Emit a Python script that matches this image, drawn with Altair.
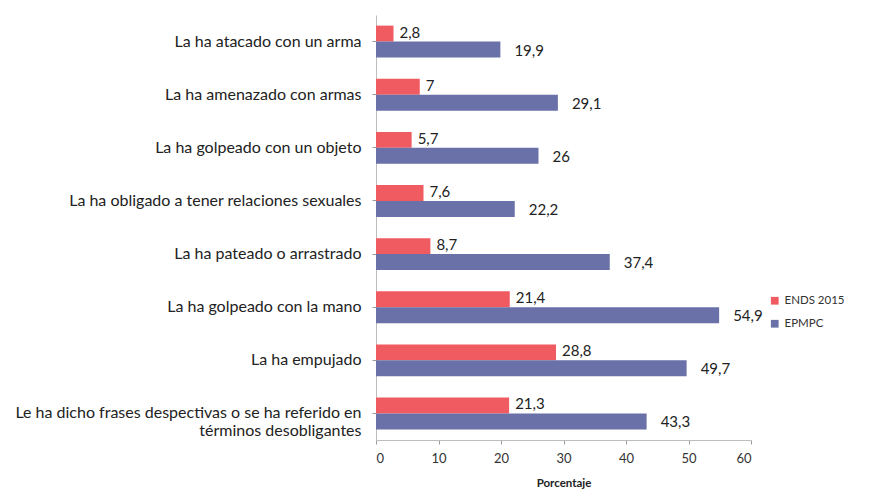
import altair as alt
import pandas as pd

categories = [
    "La ha atacado con un arma",
    "La ha amenazado con armas",
    "La ha golpeado con un objeto",
    "La ha obligado a tener relaciones sexuales",
    "La ha pateado o arrastrado",
    "La ha golpeado con la mano",
    "La ha empujado",
    "Le ha dicho frases despectivas o se ha referido en|términos desobligantes",
]
series = ["ENDS 2015", "EPMPC"]
ends_2015 = [2.8, 7, 5.7, 7.6, 8.7, 21.4, 28.8, 21.3]
epmpc = [19.9, 29.1, 26, 22.2, 37.4, 54.9, 49.7, 43.3]
x_ticks = [0, 10, 20, 30, 40, 50, 60]

rows = []
for c, v in zip(categories, ends_2015):
    rows.append({"category": c, "series": series[0], "value": v})
for c, v in zip(categories, epmpc):
    rows.append({"category": c, "series": series[1], "value": v})
df = pd.DataFrame(rows)

RED = "#ef5b60"
BLUE = "#6a71a8"
FONT = "Lato"

y_enc = alt.Y(
    "category:N",
    sort=categories,
    scale=alt.Scale(paddingInner=0.4, paddingOuter=0.2),
    axis=alt.Axis(
        title=None,
        labelExpr="split(datum.label, '|')",
        labelFontSize=16,
        labelColor="#222222",
        labelLimit=500,
        labelPadding=11,
        labelLineHeight=18,
        tickSize=4,
        tickColor="#9a9a9a",
        domainColor="#bdbdbd",
        labelFont=FONT,
    ),
)
x_enc = alt.X(
    "value:Q",
    scale=alt.Scale(domain=[0, 60], nice=False),
    axis=alt.Axis(
        title="Porcentaje",
        values=x_ticks,
        grid=False,
        labelFontSize=13,
        labelColor="#333333",
        labelPadding=8,
        tickSize=4,
        tickColor="#9a9a9a",
        domainColor="#bdbdbd",
        titleFontSize=11.5,
        titleFontWeight="bold",
        titleColor="#222222",
        titlePadding=12,
        labelFont=FONT,
        titleFont=FONT,
    ),
)
yoff = alt.YOffset("series:N", sort=series)

bars = alt.Chart(df).mark_bar().encode(
    y=y_enc,
    x=x_enc,
    yOffset=yoff,
    color=alt.Color(
        "series:N",
        sort=series,
        scale=alt.Scale(domain=series, range=[RED, BLUE]),
        legend=alt.Legend(
            title=None,
            orient="none",
            legendX=393,
            legendY=280,
            symbolType="square",
            symbolSize=60,
            labelFontSize=11.5,
            labelColor="#333333",
            labelFont=FONT,
            rowPadding=10,
        ),
    ),
)

text_base = alt.Chart(df).transform_calculate(
    lab="replace(toString(datum.value), '.', ',')"
)
red_text = text_base.transform_filter(alt.datum.series == series[0]).mark_text(
    align="left", baseline="middle", dx=6, dy=-1, fontSize=15, font=FONT, color="#222222"
).encode(y=alt.Y("category:N", sort=categories), x="value:Q", yOffset=yoff, text="lab:N")
blue_text = text_base.transform_filter(alt.datum.series == series[1]).mark_text(
    align="left", baseline="middle", dx=14, dy=1, fontSize=15, font=FONT, color="#222222"
).encode(y=alt.Y("category:N", sort=categories), x="value:Q", yOffset=yoff, text="lab:N")

chart = (
    alt.layer(bars, red_text, blue_text)
    .properties(
        width=375,
        height=425,
        background="white",
        autosize=alt.AutoSizeParams(type="none"),
        padding={"left": 368, "top": 7, "right": 130, "bottom": 50},
    )
    .configure_view(strokeWidth=0, stroke="transparent")
)

chart.save("out.html", embed_options={"renderer": "svg", "actions": False})
